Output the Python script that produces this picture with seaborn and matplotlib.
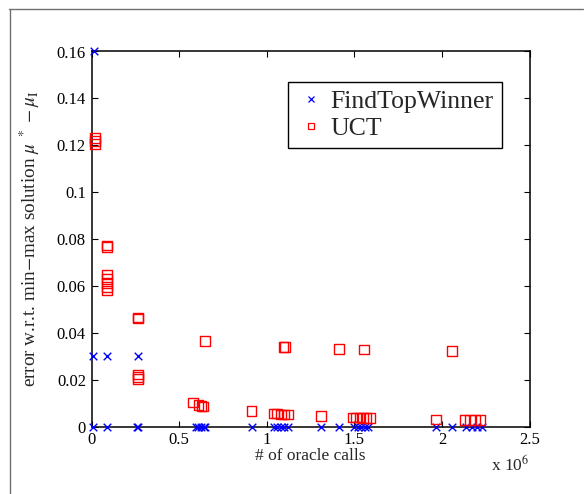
import matplotlib
matplotlib.use("Agg")
import matplotlib.pyplot as plt
from matplotlib.lines import Line2D
from matplotlib.ticker import FormatStrFormatter
import seaborn as sns
import pandas as pd

# FindTopWinner: oracle calls (x 10^6) and error
ftw_calls = [0.014, 0.01, 0.088, 0.265, 0.01, 0.088, 0.26, 0.265,
             0.595, 0.61, 0.625, 0.64, 0.65, 0.916,
             1.04, 1.06, 1.08, 1.10, 1.12, 1.31, 1.41,
             1.50, 1.52, 1.54, 1.56, 1.58, 1.966, 2.056,
             2.14, 2.17, 2.20, 2.23]
ftw_error = [0.16, 0.03, 0.03, 0.03, 0.0, 0.0, 0.0, 0.0,
             0.0, 0.0, 0.0, 0.0, 0.0, 0.0,
             0.0, 0.0, 0.0, 0.0, 0.0, 0.0, 0.0,
             0.0, 0.0, 0.0, 0.0, 0.0, 0.0, 0.0,
             0.0, 0.0, 0.0, 0.0]

# UCT: oracle calls (x 10^6) and error
uct_calls = [0.02, 0.02, 0.02,
             0.088, 0.088,
             0.088, 0.088, 0.088, 0.088, 0.088,
             0.264, 0.264,
             0.264, 0.264, 0.264,
             0.581, 0.61, 0.628, 0.64, 0.648,
             0.914,
             1.04, 1.06, 1.08, 1.10, 1.12,
             1.095, 1.104,
             1.31,
             1.414,
             1.49, 1.51, 1.53, 1.55, 1.57, 1.59,
             1.557,
             1.966,
             2.058,
             2.13, 2.16, 2.19, 2.22]
uct_error = [0.123, 0.1218, 0.1205,
             0.0772, 0.0765,
             0.0648, 0.063, 0.0612, 0.0595, 0.058,
             0.0465, 0.046,
             0.0222, 0.021, 0.0202,
             0.0102, 0.0093, 0.0087, 0.0085, 0.0366,
             0.0065,
             0.0055, 0.0055, 0.0052, 0.0052, 0.0052,
             0.034, 0.034,
             0.0046,
             0.033,
             0.0038, 0.0038, 0.0038, 0.0037, 0.0037, 0.0037,
             0.0329,
             0.003,
             0.0322,
             0.0028, 0.0028, 0.0028, 0.0028]

series_names = ["FindTopWinner", "UCT"]
x_ticks = [0, 0.5, 1, 1.5, 2, 2.5]
y_ticks = [0, 0.02, 0.04, 0.06, 0.08, 0.1, 0.12, 0.14, 0.16]

ftw_df = pd.DataFrame({"calls": ftw_calls, "error": ftw_error})
uct_df = pd.DataFrame({"calls": uct_calls, "error": uct_error})

sns.set_style("ticks", {"xtick.direction": "in", "ytick.direction": "in"})
plt.rcParams["font.family"] = ["Liberation Serif", "DejaVu Serif"]
plt.rcParams["mathtext.fontset"] = "stix"

fig = plt.figure(figsize=(5.87, 4.94), dpi=100)
fig.patch.set_facecolor("white")
ax = fig.add_axes([91.5 / 587, (494 - 426.5) / 494, 438 / 587, 375 / 494])

sns.scatterplot(data=ftw_df, x="calls", y="error", ax=ax, marker="x",
                color="#0000ff", s=30, linewidth=1.0, clip_on=False, zorder=3)
sns.scatterplot(data=uct_df, x="calls", y="error", ax=ax, marker="s",
                facecolors="none", edgecolor="#ff0000", s=48, linewidth=1.0,
                clip_on=False, zorder=3)

ax.set_xlim(0, 2.5)
ax.set_ylim(0, 0.16)
ax.set_xticks(x_ticks)
ax.set_yticks(y_ticks)
ax.xaxis.set_major_formatter(FormatStrFormatter("%g"))
ax.yaxis.set_major_formatter(FormatStrFormatter("%g"))
ax.tick_params(direction="in", length=4, width=0.8, labelsize=12,
               top=True, right=True, pad=4, colors="black")
for sp in ax.spines.values():
    sp.set_visible(True)
    sp.set_linewidth(1.1)
    sp.set_color("black")

ax.set_xlabel("# of oracle calls", fontsize=12.5, labelpad=0)
ax.set_ylabel(r"error w.r.t. min$-$max solution $\mu^{\ *}\,-\mu_{\mathrm{I}}$",
              fontsize=13.8)
ax.yaxis.set_label_coords(-0.112, 0.5)
ax.text(1.0, -0.075, r"x 10$^6$", transform=ax.transAxes, ha="right",
        va="top", fontsize=12.5)

handles = [
    Line2D([], [], linestyle="none", marker="x", color="#0000ff",
           markersize=5, markeredgewidth=0.9),
    Line2D([], [], linestyle="none", marker="s", markerfacecolor="none",
           markeredgecolor="#ff0000", markersize=5, markeredgewidth=0.9),
]
leg = ax.legend(handles, series_names, loc="upper left",
                bbox_to_anchor=(0.449, 0.919), borderaxespad=0,
                fontsize=18.5, frameon=True, fancybox=False, edgecolor="black",
                framealpha=1, handlelength=1.17, handletextpad=0.15,
                borderpad=0.32, labelspacing=0.14)
leg.get_frame().set_linewidth(1.0)

# thin gray border of the original figure frame
fig.add_artist(Line2D([9 / 587, 583 / 587], [1 - 9.5 / 494, 1 - 9.5 / 494],
                      transform=fig.transFigure, color="#707070", lw=1.0))
fig.add_artist(Line2D([9.5 / 587, 9.5 / 587], [0, 1 - 9.5 / 494],
                      transform=fig.transFigure, color="#707070", lw=1.0))

fig.savefig("out.png", dpi=100, facecolor="white")
